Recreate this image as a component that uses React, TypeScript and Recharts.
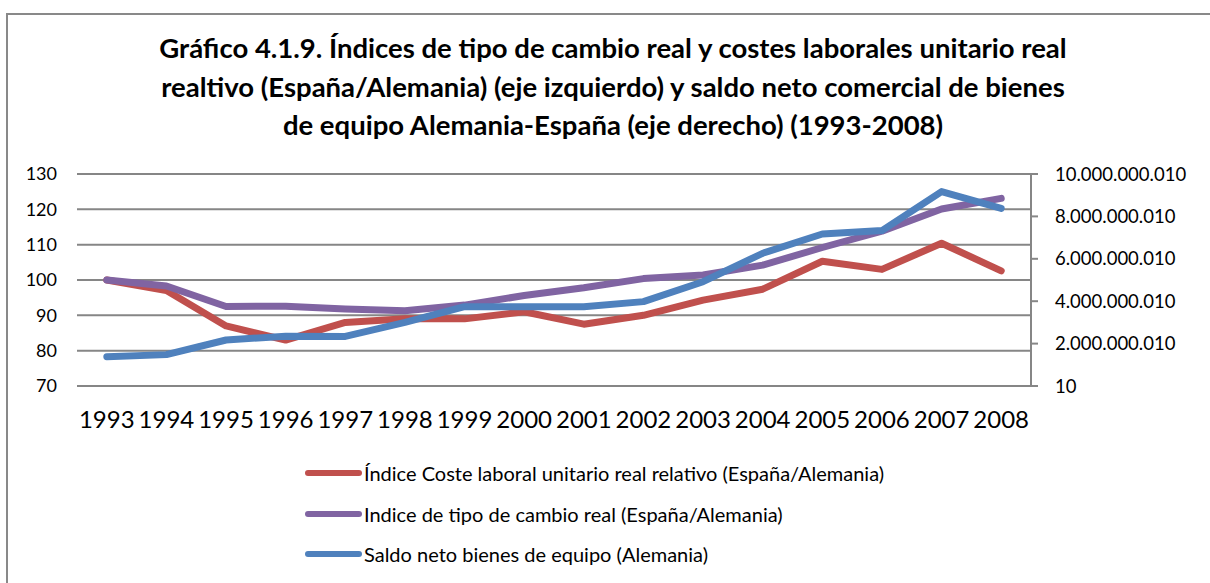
import React from 'react';
import { LineChart, Line, XAxis, YAxis, CartesianGrid } from 'recharts';

const years = ['1993','1994','1995','1996','1997','1998','1999','2000','2001','2002','2003','2004','2005','2006','2007','2008'];
const costeLaboral = [100, 97, 87, 83, 88, 89, 89, 91, 87.5, 90, 94.3, 97.4, 105.3, 103, 110.4, 102.6];
const tipoCambio = [100, 98.3, 92.5, 92.6, 91.8, 91.3, 92.9, 95.6, 97.8, 100.4, 101.4, 104.2, 109.2, 113.8, 120.1, 123.1];
const saldoNeto = [1380000000, 1480000000, 2170000000, 2350000000, 2340000000, 3000000000, 3740000000, 3740000000, 3740000000, 3980000000, 4920000000, 6260000000, 7170000000, 7330000000, 9170000000, 8380000000];
const leftTicks = [70, 80, 90, 100, 110, 120, 130];
const rightTicks = [10, 2000000010, 4000000010, 6000000010, 8000000010, 10000000010];

const seriesNames = [
  'Índice Coste laboral unitario real relativo (España/Alemania)',
  'Indice de tipo de cambio real (España/Alemania)',
  'Saldo neto bienes de equipo (Alemania)',
];
const colors = ['#C0504D', '#8064A2', '#4F81BD'];

const data = years.map((y, i) => ({
  year: y,
  coste: costeLaboral[i],
  cambio: tipoCambio[i],
  saldo: saldoNeto[i],
}));

const fmt = (n: number) => String(n).replace(/\B(?=(\d{3})+(?!\d))/g, '.');

const FONT = 'Lato, "Open Sans", sans-serif';

export default function App() {
  return (
    <div style={{ position: 'fixed', left: 0, top: 0, width: 1210, height: 583, overflow: 'hidden', background: '#fff', fontFamily: FONT }}>
      <div style={{ position: 'absolute', left: 6, top: 13, width: 1300, height: 700, borderLeft: '2px solid #898989', borderTop: '2px solid #898989', boxSizing: 'border-box' }} />
      <div style={{ position: 'absolute', left: 7, top: 29, width: 1212, textAlign: 'center', fontWeight: 'bold', fontSize: 27.5, lineHeight: '38.5px', color: '#000', whiteSpace: 'nowrap' }}>
        Gráfico 4.1.9. Índices de tipo de cambio real y costes laborales unitario real<br />
        realtivo (España/Alemania) (eje izquierdo) y saldo neto comercial de bienes<br />
        de equipo Alemania-España (eje derecho) (1993-2008)
      </div>
      <div style={{ position: 'absolute', left: 0, top: 0 }}>
        <LineChart width={1210} height={583} data={data} margin={{ top: 174, right: 79, left: 0, bottom: 147 }}>
          <CartesianGrid yAxisId="left" vertical={false} stroke="#868686" strokeWidth={2} />
          <XAxis
            dataKey="year"
            padding={{ left: 29.8, right: 29.8 }}
            axisLine={{ stroke: '#868686', strokeWidth: 2 }}
            tickLine={false}
            height={50}
            tickMargin={19}
            tick={{ fill: '#000', fontSize: 24, fontFamily: FONT }}
            interval={0}
          />
          <YAxis
            yAxisId="left"
            orientation="left"
            width={77}
            domain={[70, 130]}
            ticks={leftTicks}
            axisLine={false}
            tickLine={false}
            tickSize={0}
            tickMargin={20}
            tick={{ fill: '#000', fontSize: 18, fontFamily: FONT }}
            allowDataOverflow
          />
          <YAxis
            yAxisId="right"
            orientation="right"
            width={100}
            domain={[10, 10000000010]}
            ticks={rightTicks}
            axisLine={{ stroke: '#868686', strokeWidth: 2 }}
            tickLine={{ stroke: '#868686', strokeWidth: 2 }}
            tickSize={7}
            tickMargin={17}
            tickFormatter={fmt}
            tick={{ fill: '#000', fontSize: 18.5, fontFamily: FONT, textAnchor: 'start' }}
            allowDataOverflow
          />
          <Line yAxisId="left" dataKey="coste" name={seriesNames[0]} stroke={colors[0]} strokeWidth={7} dot={false} activeDot={false} strokeLinecap="round" strokeLinejoin="round" isAnimationActive={false} />
          <Line yAxisId="left" dataKey="cambio" name={seriesNames[1]} stroke={colors[1]} strokeWidth={7} dot={false} activeDot={false} strokeLinecap="round" strokeLinejoin="round" isAnimationActive={false} />
          <Line yAxisId="right" dataKey="saldo" name={seriesNames[2]} stroke={colors[2]} strokeWidth={7} dot={false} activeDot={false} strokeLinecap="round" strokeLinejoin="round" isAnimationActive={false} />
        </LineChart>
      </div>
      <div style={{ position: 'absolute', left: 305, top: 453 }}>
        {seriesNames.map((name, i) => (
          <div key={name} style={{ display: 'flex', alignItems: 'center', height: 40.5 }}>
            <div style={{ width: 57, height: 6, borderRadius: 3, background: colors[i], marginRight: 2 }} />
            <span style={{ fontSize: 20, color: '#000', whiteSpace: 'nowrap' }}>{name}</span>
          </div>
        ))}
      </div>
    </div>
  );
}
